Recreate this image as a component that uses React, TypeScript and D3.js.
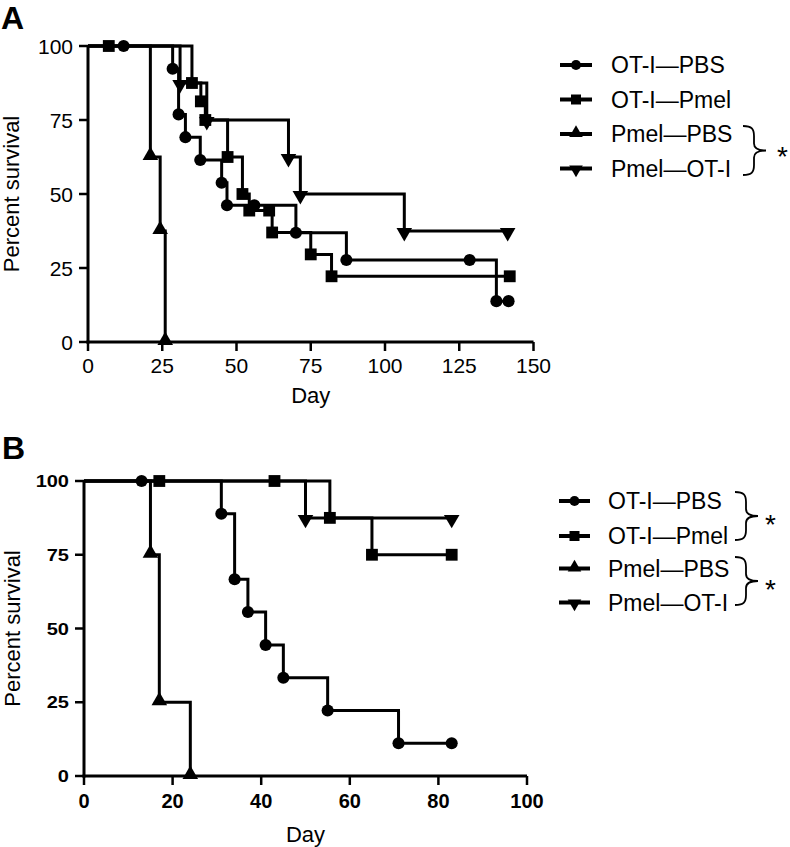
import React from 'react';
import * as d3 from 'd3';

const seriesNames = ['OT-I—PBS', 'OT-I—Pmel', 'Pmel—PBS', 'Pmel—OT-I'];
const seriesSymbols = ['circle', 'square', 'up', 'down'];

// Panel A (days, percent survival)
const aOtiPbsDays = [12, 28.5, 30.5, 32.8, 37.8, 45, 46.8, 56, 70, 87, 128.5, 137.5, 141.6];
const aOtiPbsPct = [100, 92.3, 76.9, 69.2, 61.5, 53.8, 46.2, 46.2, 36.9, 27.7, 27.7, 13.8, 13.8];
const aOtiPmelDays = [7, 35, 38, 39.5, 47, 52, 54.3, 61, 62, 75, 82, 142];
const aOtiPmelPct = [100, 87.5, 81.3, 75, 62.5, 50, 44.4, 44.4, 37.0, 29.6, 22.2, 22.2];
const aPmelPbsDays = [21, 24.3, 26];
const aPmelPbsPct = [62.5, 37.5, 0];
const aPmelOtiDays = [31, 40, 67.5, 71.5, 106.5, 141.3];
const aPmelOtiPct = [87.5, 75, 62.5, 50, 37.5, 37.5];

// Panel B
const bOtiPbsDays = [13, 31, 34, 37, 41, 45, 55, 71, 83];
const bOtiPbsPct = [100, 88.9, 66.7, 55.6, 44.4, 33.3, 22.2, 11.1, 11.1];
const bOtiPmelDays = [17, 43, 55.5, 65, 83];
const bOtiPmelPct = [100, 100, 87.5, 75, 75];
const bPmelPbsDays = [15, 17, 24];
const bPmelPbsPct = [75, 25, 0];
const bPmelOtiDays = [50, 83];
const bPmelOtiPct = [87.5, 87.5];

const aXTicks = [0, 25, 50, 75, 100, 125, 150];
const bXTicks = [0, 20, 40, 60, 80, 100];
const yTicks = [0, 25, 50, 75, 100];

const FONT = 'Liberation Sans, Arial, Helvetica, sans-serif';

function symPath(kind: string, size: number) {
  const t = kind === 'circle' ? d3.symbolCircle : kind === 'square' ? d3.symbolSquare : d3.symbolTriangle;
  return d3.symbol().type(t).size(size)() as string;
}

function Marker({ kind, x, y, size }: { kind: string; x: number; y: number; size: number }) {
  const rot = kind === 'down' ? ' rotate(180)' : '';
  return <path d={symPath(kind, size)} transform={`translate(${x},${y})${rot}`} fill="#000" />;
}

function Brace({ x, y1, y2 }: { x: number; y1: number; y2: number }) {
  const m = (y1 + y2) / 2;
  const d = `M${x},${y1} C${x + 9},${y1} ${x + 11},${y1 + 3} ${x + 11},${y1 + 10} L${x + 11},${m - 7} C${x + 11},${m - 2} ${x + 15},${m} ${x + 23},${m} C${x + 15},${m} ${x + 11},${m + 2} ${x + 11},${m + 7} L${x + 11},${y2 - 10} C${x + 11},${y2 - 3} ${x + 9},${y2} ${x},${y2}`;
  return <path d={d} fill="none" stroke="#000" strokeWidth={1.8} />;
}

type Panel = {
  letter: string;
  letterY: number;
  xDomain: [number, number];
  xRange: [number, number];
  yRange: [number, number];
  xTicks: number[];
  days: number[][];
  pcts: number[][];
  bold: boolean;
  dayY: number;
  ylabX: number;
  xLabY: number;
  legendY: number[];
  legendTextX: number;
  legendLineX: [number, number];
  braces: { x: number; y1: number; y2: number; ax: number; ay: number }[];
};

function PanelView({ p }: { p: Panel }) {
  const x = d3.scaleLinear().domain(p.xDomain).range(p.xRange);
  const y = d3.scaleLinear().domain([0, 100]).range(p.yRange);
  const line = d3
    .line<[number, number]>()
    .x((d) => x(d[0]))
    .y((d) => y(d[1]))
    .curve(d3.curveStepAfter);
  const x0 = p.xRange[0];
  const yMid = (p.yRange[0] + p.yRange[1]) / 2;
  const xMid = (p.xRange[0] + p.xRange[1]) / 2;
  return (
    <g fontFamily={FONT}>
      <text x={p.letter === 'A' ? 1 : 2} y={p.letterY} fontSize={32} fontWeight="bold">
        {p.letter}
      </text>
      {/* axes */}
      <line x1={x0} x2={x0} y1={p.yRange[1]} y2={p.yRange[0] + 1.5} stroke="#000" strokeWidth={3} />
      <line x1={x0 - 1.5} x2={p.xRange[1]} y1={p.yRange[0]} y2={p.yRange[0]} stroke="#000" strokeWidth={3} />
      {yTicks.map((t) => (
        <g key={'y' + t}>
          <line x1={x0 - 9} x2={x0} y1={y(t)} y2={y(t)} stroke="#000" strokeWidth={2.5} />
          {p.bold ? (
            <text
              transform={`translate(${x0 - 15},${y(t) + 6}) scale(1,0.8)`}
              textAnchor="end"
              fontSize={20}
              fontWeight="bold"
            >
              {t}
            </text>
          ) : (
            <text x={x0 - 15} y={y(t) + 7.5} textAnchor="end" fontSize={21}>
              {t}
            </text>
          )}
        </g>
      ))}
      {p.xTicks.map((t) => (
        <g key={'x' + t}>
          <line x1={x(t)} x2={x(t)} y1={p.yRange[0]} y2={p.yRange[0] + 9} stroke="#000" strokeWidth={2.5} />
          <text
            x={x(t)}
            y={p.xLabY}
            textAnchor="middle"
            fontSize={p.bold ? 20 : 21}
            fontWeight={p.bold ? 'bold' : 'normal'}
          >
            {t}
          </text>
        </g>
      ))}
      <text x={xMid} y={p.dayY} textAnchor="middle" fontSize={22}>
        Day
      </text>
      <text transform={`translate(${p.ylabX},${yMid}) rotate(-90)`} textAnchor="middle" fontSize={22}>
        Percent survival
      </text>
      {/* curves */}
      {p.days.map((ds, i) => {
        const pts: [number, number][] = [[0, 100], ...ds.map((d, j) => [d, p.pcts[i][j]] as [number, number])];
        return (
          <g key={'s' + i}>
            <path d={line(pts) as string} fill="none" stroke="#000" strokeWidth={3} />
            {ds.map((d, j) => (
              <Marker
                key={j}
                kind={seriesSymbols[i]}
                x={x(d)}
                y={y(p.pcts[i][j]) + (seriesSymbols[i] === 'down' ? 1.5 : seriesSymbols[i] === 'up' ? -1.5 : 0)}
                size={seriesSymbols[i] === 'square' ? 140 : seriesSymbols[i] === 'circle' ? 115 : 105}
              />
            ))}
          </g>
        );
      })}
      {/* legend */}
      {seriesNames.map((n, i) => (
        <g key={'l' + i}>
          <line
            x1={p.legendLineX[0]}
            x2={p.legendLineX[1]}
            y1={p.legendY[i]}
            y2={p.legendY[i]}
            stroke="#000"
            strokeWidth={4}
          />
          <Marker
            kind={seriesSymbols[i]}
            x={(p.legendLineX[0] + p.legendLineX[1]) / 2}
            y={p.legendY[i] + (seriesSymbols[i] === 'down' ? 1 : seriesSymbols[i] === 'up' ? -1 : 0)}
            size={seriesSymbols[i] === 'square' ? 100 : 80}
          />
          <text x={p.legendTextX} y={p.legendY[i] + 8} fontSize={23}>
            {n}
          </text>
        </g>
      ))}
      {p.braces.map((b, i) => (
        <g key={'b' + i}>
          <Brace x={b.x} y1={b.y1} y2={b.y2} />
          <text x={b.ax} y={b.ay} fontSize={28}>
            *
          </text>
        </g>
      ))}
    </g>
  );
}

const panelA: Panel = {
  letter: 'A',
  letterY: 29,
  xDomain: [0, 150],
  xRange: [88, 533.5],
  yRange: [342, 46],
  xTicks: aXTicks,
  days: [aOtiPbsDays, aOtiPmelDays, aPmelPbsDays, aPmelOtiDays],
  pcts: [aOtiPbsPct, aOtiPmelPct, aPmelPbsPct, aPmelOtiPct],
  bold: false,
  dayY: 403,
  ylabX: 19,
  xLabY: 373,
  legendY: [65, 99.5, 134, 168.5],
  legendTextX: 611,
  legendLineX: [560, 592],
  braces: [{ x: 743, y1: 126, y2: 175, ax: 777, ay: 166 }],
};

const panelB: Panel = {
  letter: 'B',
  letterY: 459,
  xDomain: [0, 100],
  xRange: [84, 527],
  yRange: [776, 481],
  xTicks: bXTicks,
  days: [bOtiPbsDays, bOtiPmelDays, bPmelPbsDays, bPmelOtiDays],
  pcts: [bOtiPbsPct, bOtiPmelPct, bPmelPbsPct, bPmelOtiPct],
  bold: true,
  dayY: 842,
  ylabX: 20,
  xLabY: 808,
  legendY: [501, 536, 568.5, 602.5],
  legendTextX: 608,
  legendLineX: [559, 590],
  braces: [
    { x: 735, y1: 492, y2: 540, ax: 765, ay: 534 },
    { x: 735, y1: 557, y2: 605, ax: 765, ay: 599 },
  ],
};

export default function App() {
  return (
    <svg
      width={790}
      height={847}
      viewBox="0 0 790 847"
      style={{ position: 'absolute', left: 0, top: 0, background: '#fff' }}
    >
      <rect width={790} height={847} fill="#fff" />
      <PanelView p={panelA} />
      <PanelView p={panelB} />
    </svg>
  );
}
